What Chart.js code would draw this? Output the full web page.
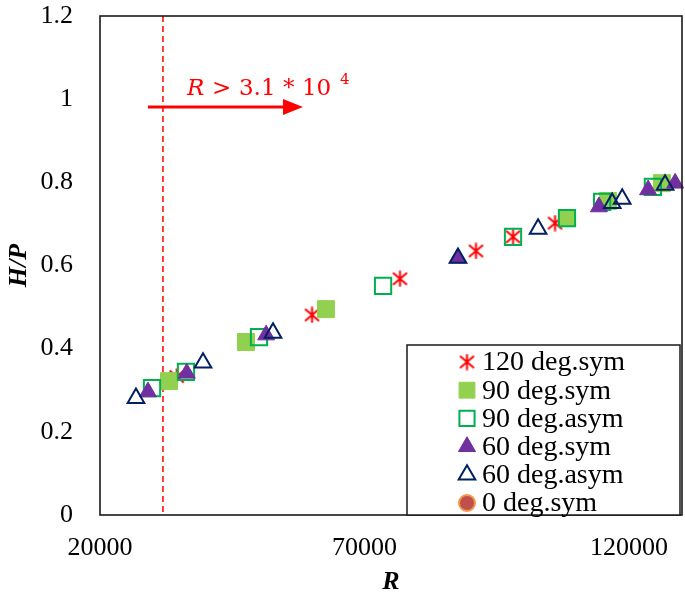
<!DOCTYPE html>
<html><head><meta charset="utf-8">
<script src="https://cdn.jsdelivr.net/npm/chart.js@4.4.1/dist/chart.umd.min.js"></script>
<style>html,body{margin:0;padding:0;background:#fff}#wrap{width:685px;height:601px}</style>
</head><body><div id="wrap"><canvas id="c" width="685" height="601"></canvas></div>
<script>
// ---- data (R, H/P) ----
const seriesNames = ["120 deg.sym","90 deg.sym","90 deg.asym","60 deg.sym","60 deg.asym","0 deg.sym"];
const r120sym  = [34500, 60070, 76700, 91060, 98060, 106000];
const hp120sym = [0.333, 0.481, 0.568, 0.635, 0.669, 0.702];
const r90sym   = [33040, 47600, 62700, 108260, 116000, 126200];
const hp90sym  = [0.322, 0.416, 0.495, 0.714, 0.755, 0.798];
const r90asym  = [29830, 36250, 50050, 73500, 98060, 108260, 114900, 124500];
const hp90asym = [0.305, 0.344, 0.428, 0.551, 0.669, 0.714, 0.753, 0.789];
const r60sym   = [29070, 36400, 51400, 87660, 114300, 123600, 128700];
const hp60sym  = [0.296, 0.341, 0.433, 0.618, 0.741, 0.782, 0.798];
const r60asym  = [26800, 39470, 52700, 87660, 102800, 116800, 118700, 126800];
const hp60asym = [0.281, 0.366, 0.438, 0.618, 0.688, 0.750, 0.760, 0.794];
const r0sym    = [];
const hp0sym   = [];
const xTicks = [20000, 70000, 120000];
const yTicks = [0, 0.2, 0.4, 0.6, 0.8, 1, 1.2];
const yTickLabels = ["0","0.2","0.4","0.6","0.8","1","1.2"];
const thresholdR = 31900;          // dashed line "R > 3.1*10^4"
const arrowFrom = [29070, 0.981], arrowTo = [58370, 0.981];
const noteAnchor = [36440, 1.010];

function pts(xs, ys){ return xs.map((x,i)=>({x:x, y:ys[i]})); }

function makeStar(size, color, lw){
  const c = document.createElement('canvas'); c.width = c.height = size;
  const g = c.getContext('2d'); g.strokeStyle = color; g.lineWidth = lw;
  g.beginPath();
  g.moveTo(size/2, 0.5); g.lineTo(size/2, size-0.5);
  g.moveTo(1.5, 2.5); g.lineTo(size-1.5, size-2.5);
  g.moveTo(size-1.5, 2.5); g.lineTo(1.5, size-2.5);
  g.stroke();
  return c;
}
const starImg = makeStar(17, '#FF0000', 2);

const styles = [
  {pointStyle: starImg, radius: 8, backgroundColor:'#FF0000', borderColor:'#FF0000', borderWidth:1.8},
  {pointStyle:'rect', radius: 12, backgroundColor:'#92D050', borderColor:'#92D050', borderWidth:1},
  {pointStyle:'rect', radius: 11.5, backgroundColor:'rgba(0,0,0,0)', borderColor:'#00B050', borderWidth:2},
  {pointStyle:'triangle', radius: 9.8, backgroundColor:'#7030A0', borderColor:'#7030A0', borderWidth:1},
  {pointStyle:'triangle', radius: 9.6, backgroundColor:'rgba(0,0,0,0)', borderColor:'#002060', borderWidth:2},
  {pointStyle:'circle', radius: 8, backgroundColor:'#C0504D', borderColor:'#F79646', borderWidth:2}
];
const dataSets = [pts(r120sym,hp120sym), pts(r90sym,hp90sym), pts(r90asym,hp90asym),
                  pts(r60sym,hp60sym), pts(r60asym,hp60asym), pts(r0sym,hp0sym)];

const datasets = dataSets.map((d,i)=>({
  label: seriesNames[i], data: d, showLine:false, order: 5-i, clip:false,
  pointStyle: styles[i].pointStyle, pointRadius: styles[i].radius, pointHoverRadius: styles[i].radius,
  backgroundColor: styles[i].backgroundColor, borderColor: styles[i].borderColor,
  pointBackgroundColor: styles[i].backgroundColor, pointBorderColor: styles[i].borderColor,
  pointBorderWidth: styles[i].borderWidth
}));

const serif = "'Liberation Serif','Times New Roman',serif";
const mathSerif = "'DejaVu Serif',serif";

const decor = {
  id:'decor',
  beforeDatasetsDraw(chart){
    const {ctx, chartArea:a, scales:{x,y}} = chart;
    ctx.save();
    ctx.strokeStyle = '#FF0000'; ctx.lineWidth = 1.5; ctx.setLineDash([6,4]);
    const xp = x.getPixelForValue(thresholdR);
    ctx.beginPath(); ctx.moveTo(xp, a.top); ctx.lineTo(xp, a.bottom); ctx.stroke();
    ctx.restore();
  },
  afterDatasetsDraw(chart){
    const {ctx, chartArea:a, scales:{x,y}} = chart;
    ctx.save();
    // frame
    ctx.strokeStyle = '#1a1a1a'; ctx.lineWidth = 1.6;
    ctx.strokeRect(a.left, a.top, a.right-a.left, a.bottom-a.top);
    // arrow
    const x0 = x.getPixelForValue(arrowFrom[0]), y0 = y.getPixelForValue(arrowFrom[1]);
    const x1 = x.getPixelForValue(arrowTo[0]),   y1 = y.getPixelForValue(arrowTo[1]);
    ctx.strokeStyle = '#FF0000'; ctx.fillStyle = '#FF0000'; ctx.lineWidth = 3;
    ctx.beginPath(); ctx.moveTo(x0, y0); ctx.lineTo(x1-18, y1); ctx.stroke();
    ctx.beginPath(); ctx.moveTo(x1, y1); ctx.lineTo(x1-20, y1-8); ctx.lineTo(x1-20, y1+8); ctx.closePath(); ctx.fill();
    // note text
    const tx = x.getPixelForValue(noteAnchor[0]), ty = y.getPixelForValue(noteAnchor[1]);
    ctx.textBaseline = 'alphabetic'; ctx.textAlign = 'left';
    ctx.font = "italic 23px " + mathSerif; ctx.fillText('R', tx, ty);
    ctx.font = "23px " + mathSerif;
    ctx.fillText('>', tx+25, ty);
    ctx.fillText('3.1', tx+52, ty);
    ctx.fillText('*', tx+96, ty);
    ctx.fillText('10', tx+115, ty);
    ctx.font = "15px " + mathSerif; ctx.fillText('4', tx+153, ty-11);
    // legend
    const lx = 407, ly = 345, lw = 273, lh = 170;
    ctx.fillStyle = '#fff'; ctx.fillRect(lx, ly, lw, lh);
    ctx.strokeStyle = '#1a1a1a'; ctx.lineWidth = 1.5; ctx.strokeRect(lx, ly, lw, lh);
    ctx.font = "28px " + serif; ctx.textBaseline = 'middle'; ctx.fillStyle = '#000';
    datasets.forEach((ds,i)=>{
      const cy = 362 + i*28.2, cx = 467;
      const st = styles[i];
      ctx.save();
      ctx.fillStyle = st.backgroundColor; ctx.strokeStyle = st.borderColor; ctx.lineWidth = st.borderWidth;
      Chart.helpers.drawPoint(ctx, {pointStyle: st.pointStyle, radius: st.pointStyle==='rect'? st.radius-0.8 : st.radius, rotation:0, borderWidth: st.borderWidth}, cx, cy);
      ctx.restore();
      ctx.fillStyle = '#000';
      ctx.fillText(ds.label, 482, cy+1);
    });
    ctx.restore();
  }
};

new Chart(document.getElementById('c'), {
  type:'scatter',
  data:{datasets},
  options:{
    responsive:false, animation:false, devicePixelRatio:1,
    layout:{autoPadding:false, padding:{left:0, right:3, top:16, bottom:0}},
    plugins:{legend:{display:false}, tooltip:{enabled:false}},
    scales:{
      x:{type:'linear', min:20000, max:130000,
        afterBuildTicks: s => { s.ticks = xTicks.map(v=>({value:v})); },
        afterFit: s => { s.height = 86; s.paddingLeft = 0; s.paddingRight = 0; },
        grid:{display:false, drawTicks:false}, border:{display:false},
        ticks:{font:{family:serif, size:26}, color:'#000', padding:18, maxRotation:0, autoSkip:false,
          callback: v => String(v)},
        title:{display:true, text:'R', font:{family:serif, size:26, weight:'bold', style:'italic'}, color:'#000', padding:{top:0,bottom:3}}
      },
      y:{type:'linear', min:0, max:1.2,
        afterBuildTicks: s => { s.ticks = yTicks.map(v=>({value:v})); },
        afterFit: s => { s.width = 100; s.paddingTop = 0; s.paddingBottom = 0; },
        grid:{display:false, drawTicks:false}, border:{display:false},
        ticks:{font:{family:serif, size:26}, color:'#000', padding:27, autoSkip:false,
          callback: (v) => { const k = yTicks.indexOf(v); return k>=0 ? yTickLabels[k] : ''; }},
        title:{display:true, text:'H/P', font:{family:serif, size:26, weight:'bold', style:'italic'}, color:'#000', padding:{top:4,bottom:0}}
      }
    }
  },
  plugins:[decor]
});
</script>
</body></html>
